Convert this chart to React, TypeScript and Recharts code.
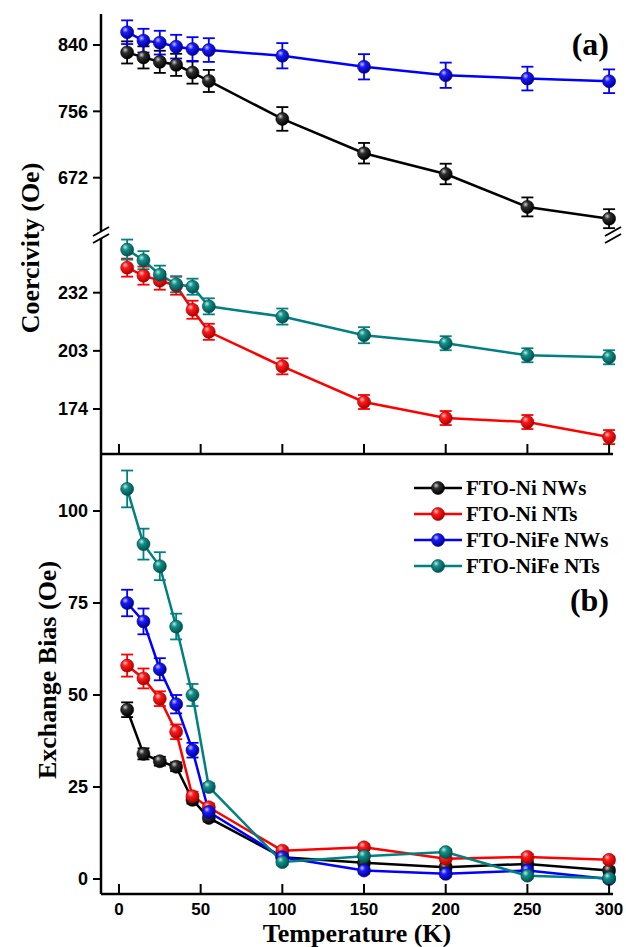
import React from "react"
import { ErrorBar, Legend, Line, LineChart, XAxis, YAxis } from "recharts"

const temps = [5, 15, 25, 35, 45, 55, 100, 150, 200, 250, 300]

// coercivity (Oe)
const hcNiNWs = [830.6, 824.3, 818.7, 814.9, 805.1, 794.5, 746.4, 703, 676.7, 635, 620.1]
const hcNiNWsErr = [14, 14, 14, 14, 14, 14, 15, 13, 13, 12, 12]
const hcNiFeNWs = [856.2, 845.5, 843, 837.9, 834.9, 833.6, 826.4, 812.4, 801.7, 797.5, 794.1]
const hcNiFeNWsErr = [15, 15, 15, 15, 15, 15, 16, 16, 16, 15, 15]
const hcNiNTs = [244.5, 240.5, 238, 235.5, 223.5, 212.5, 195.3, 177.5, 169.5, 167.5, 160]
const hcNiNTsErr = [4.5, 4.5, 4.5, 4.5, 4.5, 4, 4, 3.5, 3.5, 3.5, 3.5]
const hcNiFeNTs = [253.5, 248.2, 241, 236.2, 235, 225.2, 220.1, 210.8, 206.8, 200.8, 199.8]
const hcNiFeNTsErr = [5, 4.5, 4.5, 4, 4, 4, 4, 4, 3.5, 3.5, 3.5]

// exchange bias (Oe)
const ebNiNWs = [46, 34, 32, 30.5, 21.5, 16.6, 5.9, 4.4, 3.2, 4.1, 2.3]
const ebNiNWsErr = [2, 1.5, 1.2, 1.2, 1, 1, 0.8, 0.8, 0.8, 0.8, 0.8]
const ebNiNTs = [58, 54.5, 49, 40, 22.5, 19.5, 7.7, 8.6, 5.5, 6, 5.2]
const ebNiNTsErr = [3, 2.7, 2, 2, 1.2, 1, 0.8, 0.8, 0.8, 0.8, 0.8]
const ebNiFeNWs = [75, 70, 57, 47.5, 35, 18.2, 5.9, 2.3, 1.4, 2.3, 0]
const ebNiFeNWsErr = [3.6, 3.5, 3, 2.5, 2, 1, 0.8, 0.8, 0.8, 0.8, 0.8]
const ebNiFeNTs = [106, 91, 85, 68.6, 50, 25, 4.6, 6.2, 7.3, 0.9, 0.2]
const ebNiFeNTsErr = [5, 4.2, 3.8, 3.5, 3, 1, 0.8, 0.8, 0.8, 0.8, 0.8]

const xTicks = [0, 50, 100, 150, 200, 250, 300]
const hcUpperTicks = [672, 756, 840]
const hcLowerTicks = [174, 203, 232]
const ebTicks = [0, 25, 50, 75, 100]

const series = [
  { key: "niNW", name: "FTO-Ni NWs", color: "#000000", dark: "#000000", grad: "ballK" },
  { key: "niNT", name: "FTO-Ni NTs", color: "#ff0000", dark: "#a00000", grad: "ballR" },
  { key: "nifeNW", name: "FTO-NiFe NWs", color: "#0000ff", dark: "#00008a", grad: "ballB" },
  { key: "nifeNT", name: "FTO-NiFe NTs", color: "#008080", dark: "#004a4a", grad: "ballT" },
]

const hcUpperRows = temps.map((t, i) => ({
  t,
  niNW: hcNiNWs[i],
  niNWErr: hcNiNWsErr[i],
  nifeNW: hcNiFeNWs[i],
  nifeNWErr: hcNiFeNWsErr[i],
}))

const hcLowerRows = temps.map((t, i) => ({
  t,
  niNT: hcNiNTs[i],
  niNTErr: hcNiNTsErr[i],
  nifeNT: hcNiFeNTs[i],
  nifeNTErr: hcNiFeNTsErr[i],
}))

const ebRows = temps.map((t, i) => ({
  t,
  niNW: ebNiNWs[i],
  niNWErr: ebNiNWsErr[i],
  niNT: ebNiNTs[i],
  niNTErr: ebNiNTsErr[i],
  nifeNW: ebNiFeNWs[i],
  nifeNWErr: ebNiFeNWsErr[i],
  nifeNT: ebNiFeNTs[i],
  nifeNTErr: ebNiFeNTsErr[i],
}))

const X_DOMAIN: [number, number] = [-11, 302.4]
const FRAME = { stroke: "#000", strokeWidth: 2.5 }
const TICKLINE = { stroke: "#000", strokeWidth: 2 }
const SANS = "'Liberation Sans', Arial, sans-serif"
const SERIF = "'Liberation Serif', 'Times New Roman', serif"
const tickFont = { fill: "#000", fontSize: 18, fontWeight: "bold", fontFamily: SANS }
const MARGIN_L = 8
const MARGIN_R = 13
const YW = 93

function InTick(props: any) {
  const { x, y, payload, label } = props
  return (
    <g>
      <line x1={x} x2={x} y1={y} y2={y - 10} stroke="#000" strokeWidth={2} />
      {label && (
        <text x={x} y={y + 21} textAnchor="middle" fill="#000" fontSize={17} fontWeight="bold" fontFamily={SANS}>
          {payload.value}
        </text>
      )}
    </g>
  )
}

function renderLine(key: string) {
  const s = series.find((d) => d.key === key)!
  return (
    <Line
      key={key}
      type="linear"
      dataKey={key}
      name={s.name}
      stroke={s.color}
      strokeWidth={2.5}
      dot={{ r: 6.5, fill: `url(#${s.grad})`, stroke: s.dark, strokeWidth: 0.6 }}
      activeDot={false}
      isAnimationActive={false}
    >
      <ErrorBar dataKey={key + "Err"} direction="y" width={6} stroke={s.color} strokeWidth={1.8} isAnimationActive={false} />
    </Line>
  )
}

// legend rows follow the series order, not the alphabetical payload order
function LegendBox() {
  return (
    <div style={{ fontFamily: SERIF, fontWeight: "bold", fontSize: 21, color: "#000" }}>
      {series.map((s) => (
        <div key={s.key} style={{ display: "flex", alignItems: "center", height: 26, whiteSpace: "nowrap" }}>
          <svg width={52} height={16} style={{ marginRight: 2 }}>
            <line x1={2} x2={50} y1={8} y2={8} stroke={s.color} strokeWidth={2.5} />
            <circle cx={26} cy={8} r={6.5} fill={`url(#${s.grad})`} stroke={s.dark} strokeWidth={0.6} />
          </svg>
          <span>{s.name}</span>
        </div>
      ))}
    </div>
  )
}

function BallGradients() {
  const g = [
    { id: "ballK", hi: "#d0d0d0", mid: "#303030", lo: "#000000" },
    { id: "ballR", hi: "#ffc8c8", mid: "#ff1a1a", lo: "#b00000" },
    { id: "ballB", hi: "#c8c8ff", mid: "#1a1aff", lo: "#000090" },
    { id: "ballT", hi: "#bfeae6", mid: "#129088", lo: "#005050" },
  ]
  return (
    <defs>
      {g.map((d) => (
        <radialGradient key={d.id} id={d.id} cx="38%" cy="35%" r="65%" fx="35%" fy="30%">
          <stop offset="0%" stopColor={d.hi} />
          <stop offset="35%" stopColor={d.mid} />
          <stop offset="100%" stopColor={d.lo} />
        </radialGradient>
      ))}
    </defs>
  )
}

function BreakMarks({ x }: { x: number }) {
  return (
    <g stroke="#000" strokeWidth={2}>
      <line x1={x - 8} y1={236} x2={x + 8} y2={227} />
      <line x1={x - 8} y1={243} x2={x + 8} y2={234} />
    </g>
  )
}

export default function App() {
  return (
    <div style={{ position: "absolute", left: 0, top: 0, width: 626, height: 947, background: "#fff" }}>
      {/* coercivity, upper segment */}
      <div style={{ position: "absolute", left: 0, top: 0 }}>
        <LineChart width={626} height={239} data={hcUpperRows} margin={{ top: 14, right: MARGIN_R, bottom: 8, left: MARGIN_L }}>
          <XAxis type="number" dataKey="t" domain={X_DOMAIN} orientation="top" height={0} tick={false} tickLine={false} axisLine={FRAME} />
          <YAxis
            type="number"
            domain={[604.5, 879.25]}
            ticks={hcUpperTicks}
            width={YW}
            tick={tickFont}
            tickSize={8}
            tickMargin={5}
            tickLine={TICKLINE}
            axisLine={FRAME}
          />
          <YAxis yAxisId="r" orientation="right" width={0} domain={[604.5, 879.25]} tick={false} tickLine={false} axisLine={FRAME} />
          {renderLine("niNW")}
          {renderLine("nifeNW")}
        </LineChart>
      </div>

      {/* coercivity, lower segment */}
      <div style={{ position: "absolute", left: 0, top: 232 }}>
        <LineChart width={626} height={232} data={hcLowerRows} margin={{ top: 6, right: MARGIN_R, bottom: 0, left: MARGIN_L }}>
          <XAxis
            type="number"
            dataKey="t"
            domain={X_DOMAIN}
            ticks={xTicks}
            height={10}
            tickSize={0}
            tickMargin={0}
            tickLine={false}
            tick={<InTick label={false} />}
            axisLine={FRAME}
          />
          <YAxis
            type="number"
            domain={[151.56, 259.28]}
            ticks={hcLowerTicks}
            width={YW}
            tick={tickFont}
            tickSize={8}
            tickMargin={5}
            tickLine={TICKLINE}
            axisLine={FRAME}
          />
          <YAxis yAxisId="r" orientation="right" width={0} domain={[151.56, 259.28]} tick={false} tickLine={false} axisLine={FRAME} />
          {renderLine("niNT")}
          {renderLine("nifeNT")}
        </LineChart>
      </div>

      {/* exchange bias */}
      <div style={{ position: "absolute", left: 0, top: 440 }}>
        <LineChart width={626} height={507} data={ebRows} margin={{ top: 14, right: MARGIN_R, bottom: 0, left: MARGIN_L }}>
          <XAxis
            type="number"
            dataKey="t"
            domain={X_DOMAIN}
            ticks={xTicks}
            height={53}
            tickSize={0}
            tickMargin={0}
            tickLine={false}
            tick={<InTick label={true} />}
            axisLine={FRAME}
          />
          <YAxis
            type="number"
            domain={[-4.08, 115.49]}
            ticks={ebTicks}
            width={YW}
            tick={tickFont}
            tickSize={8}
            tickMargin={5}
            tickLine={TICKLINE}
            axisLine={FRAME}
          />
          <YAxis yAxisId="r" orientation="right" width={0} domain={[-4.08, 115.49]} tick={false} tickLine={false} axisLine={FRAME} />
          <Legend
            layout="horizontal"
            verticalAlign="middle"
            align="center"
            content={<LegendBox />}
            wrapperStyle={{ left: 412, top: 35, width: 212, height: 104 }}
          />
          {renderLine("niNW")}
          {renderLine("niNT")}
          {renderLine("nifeNW")}
          {renderLine("nifeNT")}
        </LineChart>
      </div>

      {/* titles, panel letters and axis break marks */}
      <svg width={626} height={947} style={{ position: "absolute", left: 0, top: 0, pointerEvents: "none" }}>
        <BallGradients />
        <BreakMarks x={101} />
        <BreakMarks x={613} />
        <text
          transform="translate(30,248) rotate(-90)"
          textAnchor="middle"
          dominantBaseline="central"
          fontFamily={SERIF}
          fontWeight="bold"
          fontSize={26}
          fill="#000"
        >
          Coercivity (Oe)
        </text>
        <text
          transform="translate(47,670) rotate(-90)"
          textAnchor="middle"
          dominantBaseline="central"
          fontFamily={SERIF}
          fontWeight="bold"
          fontSize={26}
          fill="#000"
        >
          Exchange Bias (Oe)
        </text>
        <text x={357} y={942} textAnchor="middle" fontFamily={SERIF} fontWeight="bold" fontSize={26} fill="#000">
          Temperature (K)
        </text>
        <text x={609} y={55} textAnchor="end" fontFamily={SERIF} fontWeight="bold" fontSize={32} fill="#000">
          (a)
        </text>
        <text x={609} y={611} textAnchor="end" fontFamily={SERIF} fontWeight="bold" fontSize={32} fill="#000">
          (b)
        </text>
      </svg>
    </div>
  )
}
